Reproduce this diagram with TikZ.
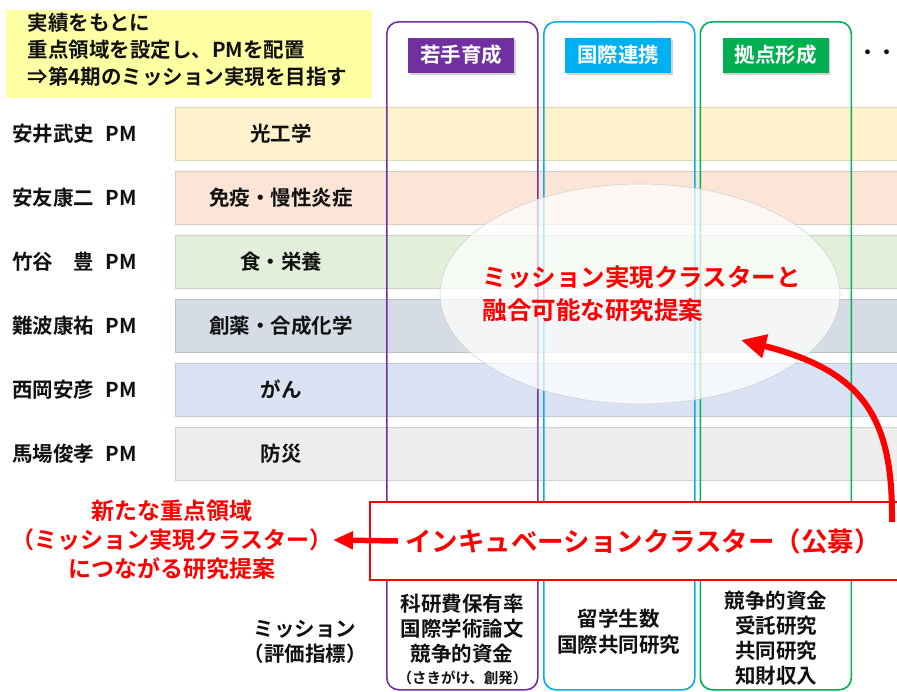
\documentclass[tikz,border=0pt]{standalone}
\usepackage{fontspec}
\setmainfont{Noto Sans CJK JP}[BoldFont=* Bold]
\usetikzlibrary{shapes.geometric,arrows.meta,shadows}
\newcommand\myfs[2]{\fontsize{#1}{#2}\selectfont}
\definecolor{goalyel}{HTML}{FFFFA3}
\definecolor{rowA}{HTML}{FFF2CC}
\definecolor{rowB}{HTML}{FBE5D6}
\definecolor{rowC}{HTML}{E2EFDA}
\definecolor{rowD}{HTML}{D6DCE5}
\definecolor{rowE}{HTML}{DAE3F3}
\definecolor{rowF}{HTML}{EDEDED}
\definecolor{cpurple}{HTML}{7030A0}
\definecolor{ccyan}{HTML}{00B0F0}
\definecolor{cgreen}{HTML}{00B050}
\definecolor{cred}{HTML}{FF0000}
\definecolor{ink}{HTML}{111111}
\begin{document}
\begin{tikzpicture}[x=1pt,y=-1pt,
  goalbox/.style={fill=goalyel, anchor=north west, inner sep=0pt, minimum width=366pt, minimum height=88pt},
  goaltext/.style={anchor=west, align=left, text=ink, font=\bfseries\myfs{20.5}{27}},
  rowband/.style={anchor=north west, inner sep=0pt, minimum width=722pt, minimum height=53pt, line width=0.7pt},
  namelabel/.style={anchor=west, text=ink, inner sep=0pt, font=\bfseries\myfs{20.5}{24}},
  catlabel/.style={text=ink, font=\bfseries\myfs{20.5}{24}},
  colbox/.style={anchor=north west, rounded corners=12pt, line width=1.6pt, minimum width=151pt, minimum height=668pt, inner sep=0pt},
  headbox/.style={text=white, minimum width=106pt, minimum height=35pt, inner sep=0pt, font=\bfseries\myfs{20.5}{24},
     drop shadow={shadow xshift=1.5pt, shadow yshift=-2.5pt, opacity=0.35}},
  redtext/.style={text=cred, align=center, inner sep=0pt, font=\bfseries\myfs{23}{29}},
  mission/.style={text=ink, align=center, font=\bfseries\myfs{20.5}{25}},
  bigarrow/.style={draw=cred, line width=5.5pt, -{Triangle[length=20pt,width=17pt]}}
]
\useasboundingbox (0,0) rectangle (897,691);
\fill[white] (0,0) rectangle (897,691);

% goal box
\node[goalbox] (goalbg) at (6,10) {};
\node[goaltext] (goal) at (24,50) {実績をもとに\\重点領域を設定し、PMを配置\\⇒第4期のミッション実現を目指す};

% rows
\foreach \nm/\cat/\col [count=\i from 0] in {安井武史/光工学/rowA, 安友康二/免疫・慢性炎症/rowB, 竹谷　豊/食・栄養/rowC, 難波康祐/創薬・合成化学/rowD, 西岡安彦/がん/rowE, 馬場俊孝/防災/rowF}{
  \node[rowband, fill=\col, draw=\col!88!black] (band\i) at (175,107+64*\i) {};
  \node[namelabel] (pm\i) at (12,133.5+64*\i) {\nm\hspace{0.55em}PM};
  \node[catlabel] (cat\i) at (281,133.5+64*\i) {\cat};
}

% columns
\node[colbox, draw=cpurple] (colA) at (386,21) {};
\node[colbox, draw=ccyan] (colB) at (543,21) {};
\node[colbox, draw=cgreen] (colC) at (699.5,21) {};
\node[headbox, fill=cpurple] (headA) at (461,55) {若手育成};
\node[headbox, fill=ccyan] (headB) at (618,55) {国際連携};
\node[headbox, fill=cgreen] (headC) at (775.5,55) {拠点形成};
\node[text=ink, inner sep=0pt, font=\bfseries\myfs{19}{24}] (more) at (877,55) {・・};

% ellipse
\node[ellipse, minimum width=400pt, minimum height=220pt, fill=white, fill opacity=0.72, draw=gray!35, line width=0.6pt] (ell) at (640,294) {};
\node[anchor=west, align=left, text=cred, font=\bfseries\myfs{24.5}{33}] (fusion) at (479,293.5) {ミッション実現クラスターと\\融合可能な研究提案};

% incubation box
\node[draw=cred, line width=1.6pt, fill=white, anchor=north west, minimum width=532pt, minimum height=78pt, inner sep=0pt] (incub) at (369,501) {};
\node[text=cred, font=\bfseries\myfs{26.5}{30}] (incubtext) at (643,541) {インキュベーションクラスター（公募）};

% left red text
\node[redtext] (newarea) at (172,540) {新たな重点領域\\（ミッション実現クラスター）\\につながる研究提案};

% arrows
\coordinate (leftstart) at (398,541);
\draw[bigarrow] (leftstart) -- (newarea.east);
\coordinate (curvestart) at (892,522);
\coordinate (curveend) at (741,340);
\draw[bigarrow, line width=6pt, -{Triangle[length=25pt,width=23pt]}] (curvestart) .. controls (893,420) and (866,372) .. (curveend);

% missions
\node[mission] (mislabel) at (305,642) {ミッション\\（評価指標）};
\node[mission] (misA) at (462,629) {科研費保有率\\国際学術論文\\競争的資金};
\node[text=ink, font=\bfseries\myfs{14.5}{17}] (misAsub) at (462.5,678) {（さきがけ、創発）};
\node[mission, font=\bfseries\myfs{20.5}{26}] (misB) at (618.5,632) {留学生数\\国際共同研究};
\node[mission] (misC) at (776,638.5) {競争的資金\\受託研究\\共同研究\\知財収入};
\end{tikzpicture}
\end{document}
